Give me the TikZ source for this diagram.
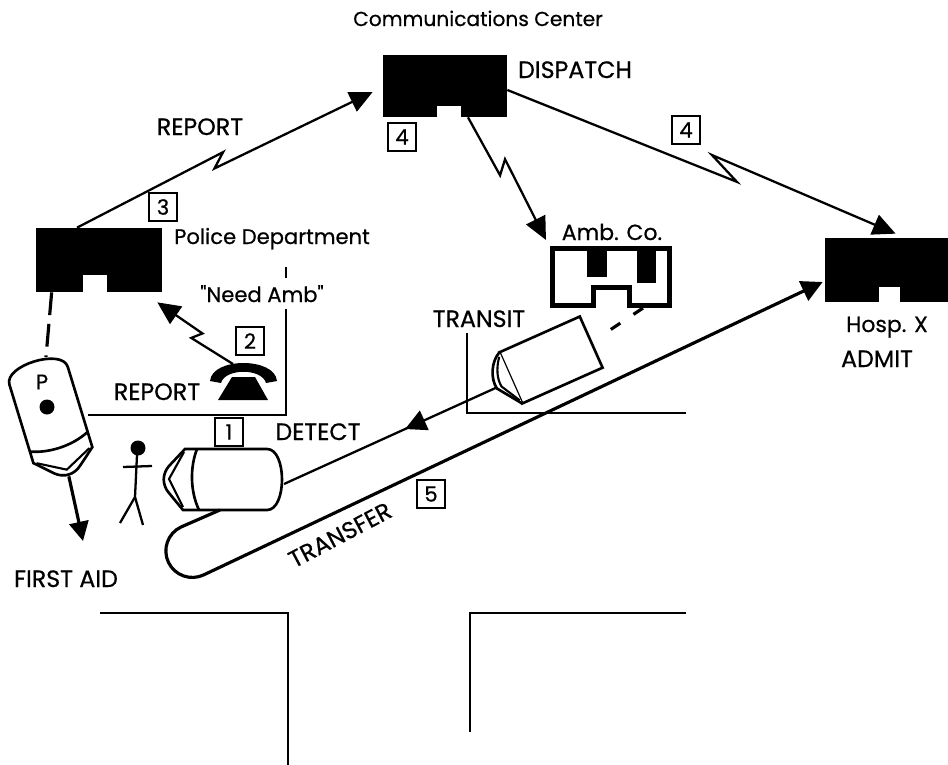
\documentclass[tikz,border=0pt]{standalone}
\usepackage{fontspec}
\setmainfont{Poppins}[FakeBold=0.6, Ligatures=TeXOff]
\usetikzlibrary{calc}
\usetikzlibrary{arrows.meta}
\usetikzlibrary{decorations.markings}

% signal line with a lightning jog: start, end, t1, d1, t2, d2
\newcommand{\zap}[6]{%
  \draw[sig] (#1) -- ($(#1)!#3!(#2)!#4!90:(#2)$) -- ($(#1)!#5!(#2)!#6!90:(#2)$) -- (#2);}

\tikzset{
  lbl/.style={font=\fontsize{12}{14}\selectfont, inner sep=0pt},
  caps/.style={font=\fontsize{13.5}{15}\selectfont, inner sep=0pt},
  numbox/.style={draw, line width=0.9pt, minimum size=0.56cm, inner sep=0pt, font=\fontsize{12}{13}\selectfont},
  bldg/.style={fill=black, inner sep=0pt},
  sig/.style={line width=1.3pt, -{Triangle[length=13pt,width=12pt]}},
  street/.style={line width=1pt},
  car/.pic={
    \draw[line width=1.5pt, fill=white] (-38,-30) -- (44,-30) .. controls (64,-30) and (64,31) .. (44,31)
      -- (-40,31) -- (-54,14) .. controls (-61,6) and (-61,-5) .. (-54,-13) -- cycle;
    \draw[line width=1.2pt] (-39,-27) -- (-54,0) -- (-40,28);
    \draw[line width=1.5pt] (-26,-30) .. controls (-33,-12) and (-33,12) .. (-24,31);
    \coordinate (-back) at (61,5);
    \coordinate (-front) at (-61,0);
    \coordinate (-bottom) at (-3,31);
  },
  van/.pic={
    \draw[line width=1.5pt, fill=white] (-44,-28) rectangle (44,28);
    \draw[line width=1.5pt, fill=white] (-44,-28) .. controls (-55,-23) and (-63,-8) .. (-61,4) -- (-44,28);
    \draw[line width=1.2pt] (-46,-24) .. controls (-54,-14) and (-57,-4) .. (-56,4) -- (-45,24);
    \coordinate (-front) at (-61,3);
    \coordinate (-back) at (46,0);
  }
}

\begin{document}
\begin{tikzpicture}[x=0.02cm, y=-0.02cm]
\useasboundingbox (0,0) rectangle (948,765);

% streets
\draw[street] (286,267) -- (286,415) -- (88,415);
\draw[street] (467,333) -- (467,413) -- (686,413);
\draw[street] (100,613) -- (288,613) -- (288,770);
\draw[street] (470,732) -- (470,613) -- (686,613);

% buildings
\node[bldg, minimum width=2.52cm, minimum height=1.28cm] (police) at (99,260) {};
\node[bldg, minimum width=2.48cm, minimum height=1.24cm] (disp) at (445,86) {};
\node[bldg, minimum width=2.7cm, minimum height=1.28cm] (hosp) at (892.5,270) {};
\node[draw, line width=2.6pt, minimum width=2.35cm, minimum height=1.15cm, inner sep=0pt] (ambco) at (611,277) {};
\fill[white] (83,275) rectangle (107,293);
\fill[white] (437,106) rectangle (461,118);
\fill[white] (879,287) rectangle (900,303);
\fill[white] (596,300) rectangle (627,310);
\draw[line width=2.6pt] (593.7,308) -- (593.7,287.7) -- (629.3,287.7) -- (629.3,308);
\fill (587,248) rectangle (607,277);
\fill (637,248) rectangle (656,283);

% labels
\node[lbl, font=\fontsize{11.5}{13}\selectfont, anchor=base] (comm) at (478,26) {Communications Center};
\node[caps, anchor=base] (displbl) at (575,78) {DISPATCH};
\node[caps, anchor=base] (rep1) at (200,135) {REPORT};
\node[lbl, anchor=base] (pollbl) at (272,244) {Police Department};
\node[lbl, anchor=base, fill=white, inner sep=4pt] (need) at (262,302) {"Need Amb"};
\node[caps, anchor=base] (rep2) at (157,400) {REPORT};
\node[caps, anchor=base] (detect) at (318,440) {DETECT};
\node[caps, anchor=base] (aid) at (66,587) {FIRST AID};
\node[caps, anchor=base] (transit) at (479,327) {TRANSIT};
\node[lbl, font=\fontsize{12.5}{14}\selectfont, anchor=base] (amblbl) at (612,240) {Amb. Co.};
\node[lbl, font=\fontsize{12.5}{14}\selectfont, anchor=base] (hosplbl) at (887,332) {Hosp. X};
\node[caps, anchor=base] (admit) at (877,367) {ADMIT};
\node[caps, rotate=27.8] (transfer) at (340,535) {TRANSFER};

\node[numbox] (n1) at (229,432) {1};
\node[numbox] (n2) at (250,341) {2};
\node[numbox] (n3) at (163,207) {3};
\node[numbox] (n4a) at (402,137) {4};
\node[numbox] (n4b) at (686,130) {4};
\node[numbox] (n5) at (431,494) {5};

% cars
\pic (car1) at (223,479) {car};
\pic[rotate=107] (pcar) at (51,418) {car};
\pic[rotate=24] (van) at (551,360) {van};
\node[lbl] (plbl) at (42,382) {P};
\fill (47,407) circle[radius=7.5];

% person
\fill (138,448) circle[radius=7.5];
\draw[line width=1.3pt] (137,455) -- (135,497) -- (120,523);
\draw[line width=1.3pt] (135,497) -- (143,525);
\draw[line width=1.3pt] (123,467) -- (152,466);

% phone
\fill (210,381) .. controls (212,357) and (275,357) .. (277,381) -- (266,383)
  .. controls (262,368) and (225,368) .. (221,383) -- cycle;
\fill (232,377) -- (255,377) -- (268,400) -- (218,400) -- cycle;
\coordinate (phone) at (233,364);

% radio / phone reports
\coordinate (repS) at ([xshift=-0.44cm]police.north);
\coordinate (repE) at ([xshift=-0.2cm,yshift=-0.12cm]disp.west);
\zap{repS}{repE}{0.505}{4.4pt}{0.46}{-2pt}
\coordinate (phE) at ([xshift=-0.1cm,yshift=-0.2cm]police.south east);
\zap{phone}{phE}{0.5}{3.5pt}{0.44}{-2.5pt}
\coordinate (ambS) at ([xshift=0.46cm]disp.south);
\coordinate (ambE) at ([xshift=-0.08cm,yshift=0.12cm]ambco.north west);
\zap{ambS}{ambE}{0.455}{-2.3pt}{0.38}{5pt}
\coordinate (hospS) at ([yshift=-0.08cm]disp.east);
\coordinate (hospE) at ([xshift=1.42cm,yshift=0.08cm]hosp.north west);
\zap{hospS}{hospE}{0.597}{-3.7pt}{0.518}{5.7pt}

% transit and transfer
\draw[line width=1.3pt, postaction={decorate},
  decoration={markings, mark=at position 0.43 with {\arrow{Triangle[length=12pt,width=12pt]}}}]
  (van-front) -- (car1-back);
\coordinate (loopE) at ([xshift=-0.04cm,yshift=-0.24cm]hosp.west);
\draw[line width=1.8pt, -{Triangle[length=12pt,width=12pt]}] (car1-bottom) -- (181,527)
  arc[start angle=244.6, end angle=64.6, radius=26.5] -- (loopE);

% dashed links
\coordinate (polS) at ([xshift=0.32cm]police.south west);
\coordinate (pcartop) at (46,357);
\draw[line width=1.8pt, dash pattern=on 13pt off 5pt] (polS) -- (pcartop);
\coordinate (ambD) at ([xshift=0.64cm]ambco.south);
\draw[line width=1.8pt, dash pattern=on 6.5pt off 9pt, shorten >=5pt] (ambD) -- (van-back);

% first aid
\coordinate (aidtip) at (83,541);
\draw[line width=1.8pt, -{Triangle[length=11pt,width=11pt]}] (pcar-front) -- (aidtip);
\end{tikzpicture}
\end{document}
